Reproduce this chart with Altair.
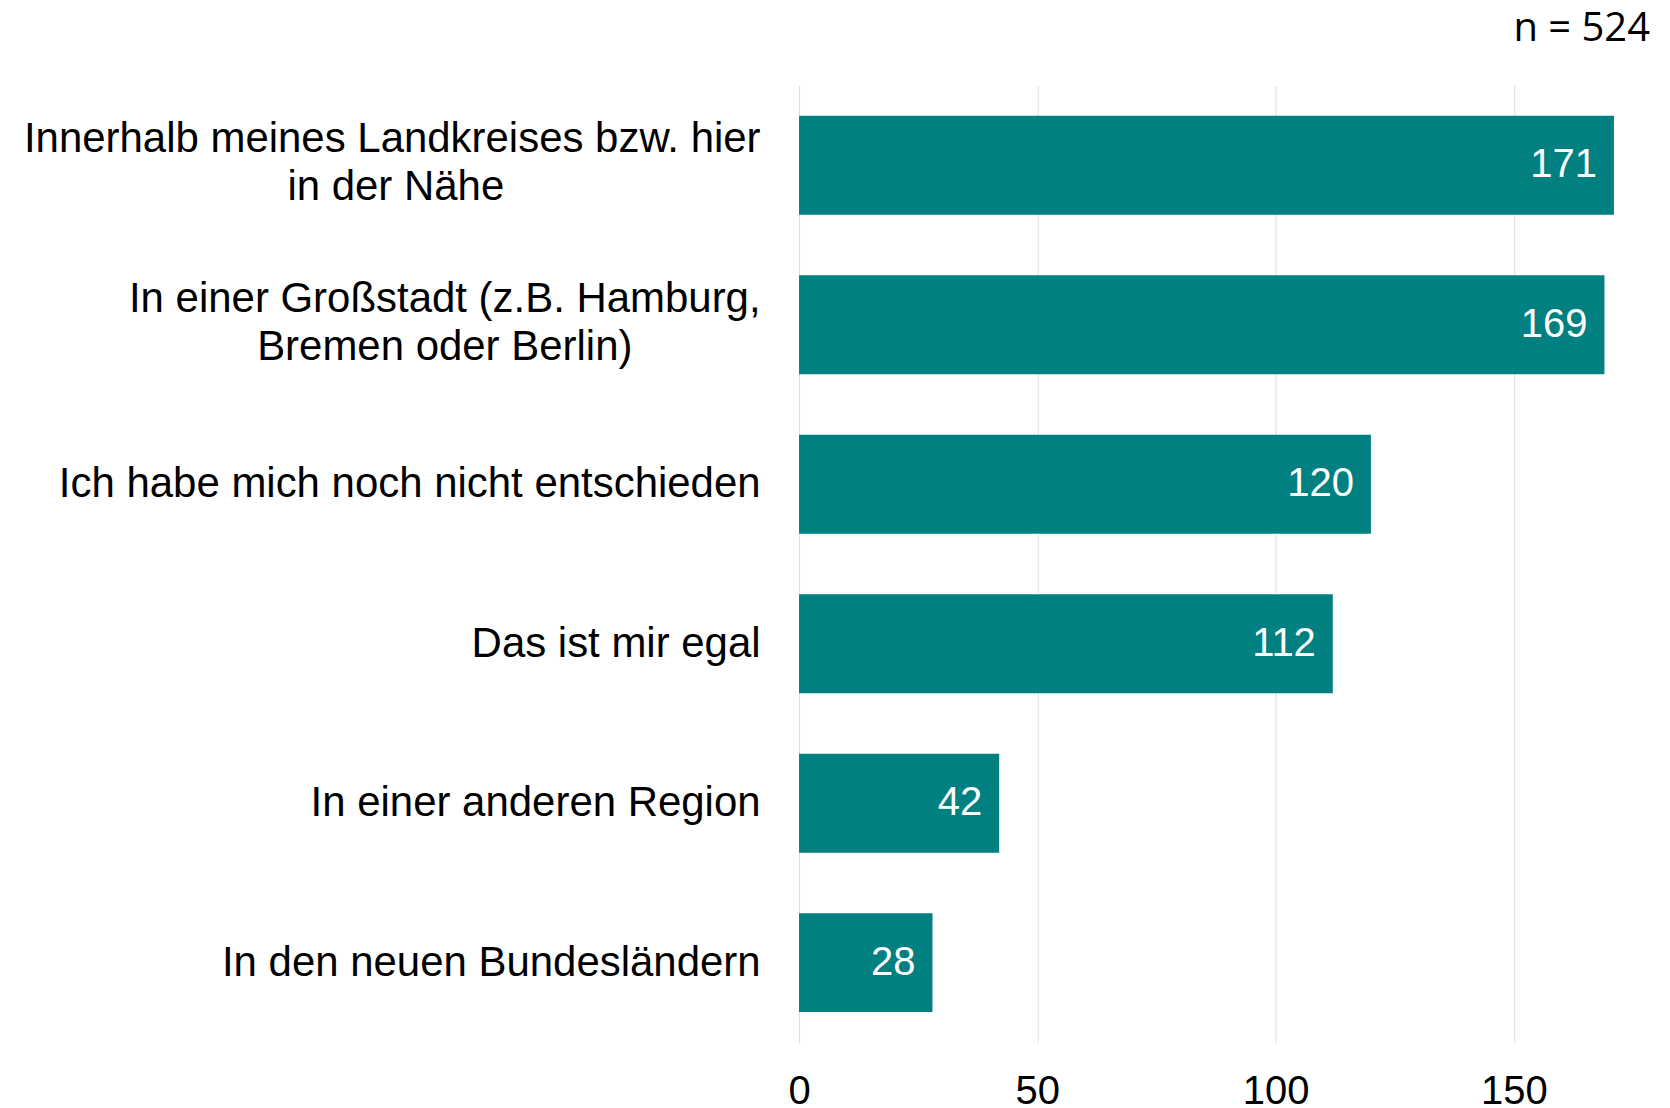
import altair as alt
import pandas as pd

NB = "\u00a0"
END = "\u200b"
categories = [
    "Innerhalb meines Landkreises bzw. hier|in der Nähe" + NB * 22 + END,
    "In einer Großstadt (z.B. Hamburg,|Bremen oder Berlin)" + NB * 11 + END,
    "Ich habe mich noch nicht entschieden",
    "Das ist mir egal",
    "In einer anderen Region",
    "In den neuen Bundesländern",
]
values = [171, 169, 120, 112, 42, 28]
x_ticks = [0, 50, 100, 150]
note = "n = 524"

df = pd.DataFrame({"cat": categories, "val": values})

W = 835
H = 958

base = alt.Chart(df).encode(
    y=alt.Y(
        "cat:N",
        sort=None,
        title=None,
        scale=alt.Scale(paddingInner=0.38, paddingOuter=0.19),
        axis=alt.Axis(
            labelExpr="split(datum.label, '|')",
            labelFont="Liberation Sans",
            labelFontSize=42,
            labelLineHeight=48,
            labelColor="black",
            labelAlign="right",
            labelPadding=39,
            labelLimit=900,
            labelOffset={
                "condition": {"test": "indexof(datum.label, '|') >= 0", "value": -26},
                "value": 0,
            },
            ticks=False,
            domain=False,
            grid=False,
            minExtent=792,
            maxExtent=792,
        ),
    ),
)

bars = base.mark_bar(color="#008080").encode(
    x=alt.X(
        "val:Q",
        title=None,
        scale=alt.Scale(domain=[0, 175], nice=False),
        axis=alt.Axis(
            values=x_ticks,
            grid=True,
            gridColor="#dcdcdc",
            gridWidth=1,
            ticks=False,
            domain=False,
            labelFlush=False,
            labelFont="Liberation Sans",
            labelFontSize=40,
            labelColor="black",
            labelPadding=29,
        ),
    )
)

labels = base.mark_text(
    align="right",
    baseline="middle",
    dx=-17,
    color="white",
    font="Liberation Sans",
    fontSize=40,
).encode(x="val:Q", text="val:Q")

note_df = pd.DataFrame({"t": [note]})
note_text = alt.Chart(note_df).mark_text(
    align="right",
    baseline="alphabetic",
    font="Open Sans",
    fontSize=40,
    color="black",
).encode(text="t:N", x=alt.value(852), y=alt.value(-45))

chart = alt.layer(bars, labels, note_text).properties(
    width=W,
    height=H,
    padding={"left": 0, "top": 0, "right": 12, "bottom": 0},
    background="white",
).configure_view(stroke=None)

chart.save("out.html", embed_options={"renderer": "svg", "actions": False})
